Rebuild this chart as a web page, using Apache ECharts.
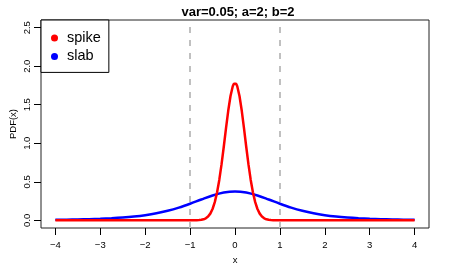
<!DOCTYPE html>
<html><head><meta charset="utf-8">
<script src="https://cdn.jsdelivr.net/npm/echarts@6/dist/echarts.min.js"></script>
<style>html,body{margin:0;padding:0;background:#fff}#c{width:449px;height:269px}</style>
</head><body><div id="c"></div>
<script>
const titleText = 'var=0.05; a=2; b=2';
const xTicks = [-4, -3, -2, -1, 0, 1, 2, 3, 4];
const yTicks = [0, 0.5, 1, 1.5, 2, 2.5];
const refLines = [-1, 1];
const seriesNames = ['spike', 'slab'];

const slabX = [-4, -3.75, -3.5, -3.25, -3, -2.75, -2.5, -2.25, -2, -1.75, -1.5, -1.25, -1, -0.75, -0.5, -0.25, 0,
  0.25, 0.5, 0.75, 1, 1.25, 1.5, 1.75, 2, 2.25, 2.5, 2.75, 3, 3.25, 3.5, 3.75, 4];
const slabY = [0.0067, 0.0087, 0.0113, 0.0148, 0.0197, 0.0264, 0.0357, 0.0485, 0.0663, 0.0905, 0.1229, 0.1644, 0.2147, 0.2699, 0.3223, 0.3607, 0.375,
  0.3607, 0.3223, 0.2699, 0.2147, 0.1644, 0.1229, 0.0905, 0.0663, 0.0485, 0.0357, 0.0264, 0.0197, 0.0148, 0.0113, 0.0087, 0.0067];

const spikeX = [-4, -3, -2, -1.5, -1, -0.9, -0.85, -0.8, -0.75, -0.7, -0.65, -0.6, -0.55, -0.5, -0.45, -0.4, -0.35, -0.3, -0.25, -0.2, -0.15, -0.1, -0.05, -0.025, 0,
  0.025, 0.05, 0.1, 0.15, 0.2, 0.25, 0.3, 0.35, 0.4, 0.45, 0.5, 0.55, 0.6, 0.65, 0.7, 0.75, 0.8, 0.85, 0.9, 1, 1.5, 2, 3, 4];
const spikeY = [0, 0, 0, 0, 0.0001, 0.0005, 0.0013, 0.0030, 0.0064, 0.0133, 0.0261, 0.0487, 0.0866, 0.1465, 0.2355, 0.3602, 0.5241, 0.7254, 0.9550, 1.1959, 1.4247, 1.6143, 1.7401, 1.7730, 1.7841,
  1.7730, 1.7401, 1.6143, 1.4247, 1.1959, 0.9550, 0.7254, 0.5241, 0.3602, 0.2355, 0.1465, 0.0866, 0.0487, 0.0261, 0.0133, 0.0064, 0.0030, 0.0013, 0.0005, 0.0001, 0, 0, 0, 0];

const pairs = (xs, ys) => xs.map((x, i) => [x, ys[i]]);
const FONT = "'Liberation Sans', Arial, Helvetica, sans-serif";

const chart = echarts.init(document.getElementById('c'), null, {renderer: 'canvas'});
chart.setOption({
  animation: false,
  backgroundColor: '#ffffff',
  title: {
    text: titleText, left: 233, top: 1, textAlign: 'center',
    textStyle: {fontFamily: FONT, fontWeight: 'bold', fontSize: 13, color: '#000'}
  },
  legend: {
    data: seriesNames, orient: 'vertical', left: 41, top: 20,
    icon: 'circle', itemWidth: 7, itemHeight: 7, itemGap: 2.4,
    padding: [10, 8, 8, 10],
    backgroundColor: '#ffffff', borderColor: '#000', borderWidth: 1, borderRadius: 0,
    textStyle: {fontFamily: FONT, fontSize: 14.5, color: '#000', lineHeight: 16, padding: [0, 0, 0, 4]},
    z: 10
  },
  grid: {left: 41, right: 20, top: 20, bottom: 41, containLabel: false, outerBoundsMode: 'none',
    show: true, borderColor: '#222', borderWidth: 1, backgroundColor: 'transparent'},
  xAxis: {
    type: 'value', min: -4.32, max: 4.32,
    name: 'x', nameLocation: 'middle', nameGap: 26,
    nameTextStyle: {fontFamily: FONT, fontSize: 9.5, color: '#000'},
    axisLine: {show: false, onZero: false},
    axisTick: {show: true, length: 7, customValues: xTicks, lineStyle: {color: '#000', width: 1}},
    axisLabel: {customValues: xTicks, margin: 12, fontFamily: FONT, fontSize: 9.5, color: '#000',
      formatter: v => v < 0 ? '\u2212' + Math.abs(v) : String(v)},
    splitLine: {show: false}
  },
  yAxis: {
    type: 'value', min: -0.1, max: 2.6,
    name: 'PDF(x)', nameLocation: 'middle', nameGap: 23, nameRotate: 90, nameMoveOverlap: false,
    nameTextStyle: {fontFamily: FONT, fontSize: 9.5, color: '#000'},
    axisLine: {show: false, onZero: false},
    axisTick: {show: true, length: 7, customValues: yTicks, lineStyle: {color: '#000', width: 1}},
    axisLabel: {customValues: yTicks, rotate: 90, margin: 9, fontFamily: FONT, fontSize: 9.5, color: '#000',
      formatter: v => v.toFixed(1)},
    splitLine: {show: false}
  },
  series: [
    {
      name: 'slab', type: 'line', data: pairs(slabX, slabY), smooth: 0.35,
      showSymbol: false, symbol: 'none', itemStyle: {color: '#0000ff'},
      lineStyle: {color: '#0000ff', width: 2.5}, z: 3,
      markLine: {
        silent: true, symbol: 'none', label: {show: false},
        lineStyle: {color: '#c0c0c0', width: 2, type: [6, 7]},
        data: refLines.map(v => ({xAxis: v}))
      }
    },
    {
      name: 'spike', type: 'line', data: pairs(spikeX, spikeY), smooth: false,
      showSymbol: false, symbol: 'none', itemStyle: {color: '#ff0000'},
      lineStyle: {color: '#ff0000', width: 2.5}, z: 4
    }
  ]
});
</script></body></html>
